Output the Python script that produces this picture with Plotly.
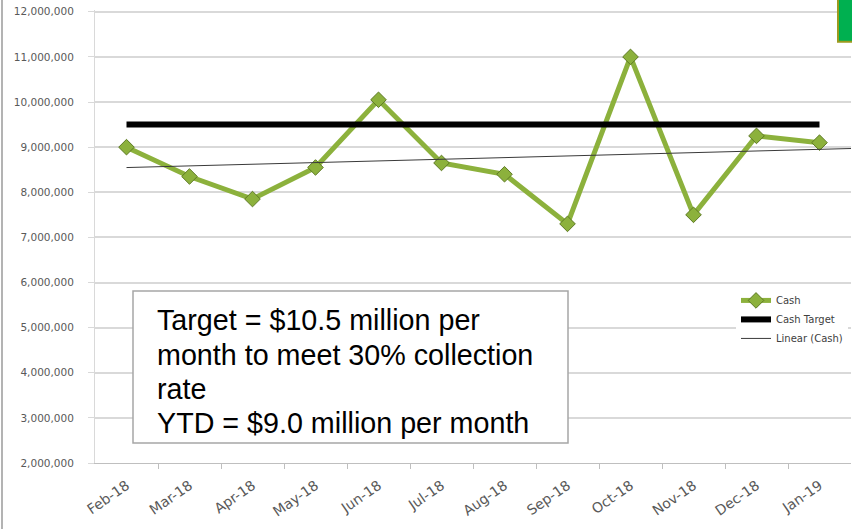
import numpy as np
import plotly.graph_objects as go

months = ["Feb-18", "Mar-18", "Apr-18", "May-18", "Jun-18", "Jul-18",
          "Aug-18", "Sep-18", "Oct-18", "Nov-18", "Dec-18", "Jan-19"]
cash = [9000000, 8350000, 7850000, 8550000, 10050000, 8650000,
        8400000, 7300000, 11000000, 7500000, 9250000, 9100000]
cash_target = [9500000] * 12
y_ticks = [2000000, 3000000, 4000000, 5000000, 6000000, 7000000,
           8000000, 9000000, 10000000, 11000000, 12000000]
note_lines = ["Target = $10.5 million per",
              "month to meet 30% collection",
              "rate",
              "YTD = $9.0 million per month"]

idx = np.arange(len(months))
slope, intercept = np.polyfit(idx, np.array(cash, dtype=float), 1)
trend_x = [0, len(months) - 0.5]
trend_y = [intercept + slope * x for x in trend_x]

W, H = 852, 529
YMIN, YMAX = 2000000, 12040000
PL, PR = 95, 851
PB = 463
PT = PB - (YMAX - YMIN) / 1e6 * 45.1
L, T = PL, PT
R, B = W - PR, H - PB
PW, PH = PR - PL, PB - PT


def px(x):
    return (x - PL) / PW


def py(y):
    return (PB - y) / PH


GREEN = "#8CB13C"

fig = go.Figure()
fig.add_trace(go.Scatter(
    x=idx, y=cash, name="Cash", mode="lines+markers",
    line=dict(color=GREEN, width=5),
    marker=dict(symbol="diamond", size=12, color=GREEN,
                line=dict(color="#5E7A25", width=1)),
))
fig.add_trace(go.Scatter(
    x=idx, y=cash_target, name="Cash Target", mode="lines",
    line=dict(color="black", width=6),
))
fig.add_trace(go.Scatter(
    x=trend_x, y=trend_y, name="Linear (Cash)", mode="lines",
    line=dict(color="#3A3A3A", width=1),
))

shapes = [
    dict(type="rect", xref="paper", yref="paper",
         x0=px(133), x1=px(568), y0=py(443), y1=py(291),
         fillcolor="white", line=dict(color="#A6A6A6", width=1.5), layer="above"),
    dict(type="rect", xref="paper", yref="paper",
         x0=px(838), x1=px(856), y0=py(42), y1=py(-4),
         fillcolor="#00B050", line=dict(color="#9C9A1E", width=2), layer="above"),
    dict(type="line", xref="paper", yref="paper",
         x0=px(2), x1=px(2), y0=py(529), y1=py(0),
         line=dict(color="#9A9A9A", width=1.5)),
]

annotations = []
baselines = [332, 367, 401, 435]
for text, base in zip(note_lines, baselines):
    annotations.append(dict(
        xref="paper", yref="paper", x=px(155), y=py(base + 6),
        xanchor="left", yanchor="bottom", showarrow=False, text=text,
        font=dict(family="Liberation Sans, Arial", size=28.7, color="black"),
    ))

fig.update_layout(
    width=W, height=H,
    margin=dict(l=L, r=R, t=T, b=B, autoexpand=False),
    paper_bgcolor="white", plot_bgcolor="white",
    showlegend=True,
    legend=dict(x=px(736), y=py(286), xanchor="left", yanchor="top",
                bgcolor="white", font=dict(family="DejaVu Sans", size=10, color="#404040"),
                itemwidth=30, tracegroupgap=0),
    shapes=shapes, annotations=annotations,
    xaxis=dict(
        range=[-0.5, len(months) - 0.5], tickmode="array",
        tickvals=list(idx), ticktext=months, ticks="", tickangle=-35,
        tickfont=dict(family="DejaVu Sans", size=14, color="#595959"),
        ticklabelstandoff=8, ticklabeloverflow="allow",
        showgrid=False, zeroline=False,
        showline=True, linecolor="#BFBFBF", linewidth=1,
        minor=dict(tickvals=[i + 0.5 for i in idx[:-1]], ticks="outside",
                   ticklen=5, tickcolor="#BFBFBF", showgrid=False),
    ),
    yaxis=dict(
        range=[YMIN, YMAX], tickmode="array", tickvals=y_ticks,
        ticktext=[f"{v:,}" for v in y_ticks],
        tickfont=dict(family="DejaVu Sans", size=10.5, color="#595959"),
        ticks="outside", ticklen=6, tickcolor="#D9D9D9", ticklabelstandoff=12,
        ticklabeloverflow="allow",
        showgrid=True, gridcolor="#D9D9D9", gridwidth=1.5, zeroline=False,
        showline=True, linecolor="#D9D9D9", linewidth=1,
    ),
)

fig.write_html(
    "out.html",
    config={"displayModeBar": False},
    post_script="document.body.style.margin='0';document.body.style.overflow='hidden';",
)
